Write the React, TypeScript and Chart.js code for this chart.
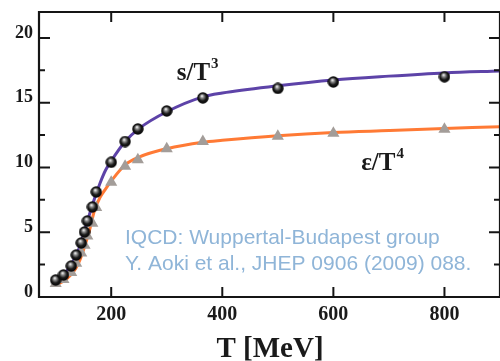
import { useEffect, useRef } from 'react';
import { Chart, registerables } from 'chart.js';
Chart.register(...registerables);

// Lattice data points
const POINT_T = [100, 114, 128, 137, 146, 152, 157, 166, 173, 200, 225, 248, 300, 365, 500, 600, 800];
const ENTROPY = [1.31, 1.7, 2.39, 3.24, 4.17, 5.02, 5.87, 6.95, 8.11, 10.4, 12.0, 12.97, 14.36, 15.37, 16.1, 16.6, 17.0];
const ENERGY = [1.05, 1.35, 1.9, 2.6, 3.4, 4.0, 4.7, 5.7, 6.9, 8.85, 10.1, 10.6, 11.45, 12.0, 12.4, 12.65, 12.95];

// Fitted curves
const CURVE_T = [100, 120, 140, 160, 170, 180, 190, 200, 225, 250, 300, 365, 400, 500, 600, 700, 800, 900];
const ENTROPY_FIT = [1.2, 2.0, 3.5, 6.25, 7.6, 8.8, 9.8, 10.5, 12.0, 13.0, 14.3, 15.45, 15.75, 16.3, 16.75, 17.05, 17.3, 17.45];
const ENERGY_FIT = [0.9, 1.4, 2.5, 5.0, 6.7, 7.7, 8.35, 8.95, 10.2, 10.8, 11.45, 11.95, 12.1, 12.45, 12.7, 12.85, 13.0, 13.15];

const X_TICKS = [200, 400, 600, 800];
const Y_TICKS = [0, 5, 10, 15, 20];
const Y_MINOR = [2.5, 7.5, 12.5, 17.5];
const X_MIN = 70;
const X_MAX = 900;
const Y_MIN = 0;
const Y_MAX = 22;

const X_TITLE = 'T [MeV]';
const LABEL_S = { text: 's/T', sup: '3', t: 318, v: 16.75 };
const LABEL_E = { text: 'ε/T', sup: '4', t: 650, v: 9.8 };
const NOTE_LINES = ['IQCD: Wuppertal-Budapest group', 'Y. Aoki et al., JHEP 0906 (2009) 088.'];

function makeSphere(): HTMLCanvasElement {
  const c = document.createElement('canvas');
  c.width = 12;
  c.height = 12;
  const g = c.getContext('2d')!;
  const grad = g.createRadialGradient(5, 4, 0.3, 6, 6, 6);
  grad.addColorStop(0, '#f4f4f4');
  grad.addColorStop(0.25, '#8a8a8a');
  grad.addColorStop(0.6, '#1a1a1a');
  grad.addColorStop(1, '#000000');
  g.fillStyle = grad;
  g.beginPath();
  g.arc(6, 6, 5.7, 0, Math.PI * 2);
  g.fill();
  return c;
}

const decoPlugin = {
  id: 'deco',
  afterDraw(chart: any) {
    const ctx: CanvasRenderingContext2D = chart.ctx;
    const { left, right, top, bottom } = chart.chartArea;
    const xs = chart.scales.x;
    const ys = chart.scales.y;
    ctx.save();
    ctx.strokeStyle = '#151515';
    ctx.lineWidth = 2.2;
    ctx.beginPath();
    ctx.moveTo(left, top);
    ctx.lineTo(right, top);
    ctx.moveTo(left, top - 1);
    ctx.lineTo(left, bottom);
    ctx.lineTo(right, bottom);
    ctx.moveTo(right, top);
    ctx.lineTo(right, bottom);
    ctx.stroke();

    ctx.lineWidth = 2;
    ctx.beginPath();
    for (const v of Y_TICKS) {
      const y = ys.getPixelForValue(v);
      ctx.moveTo(left, y);
      ctx.lineTo(left + 11, y);
      ctx.moveTo(right, y);
      ctx.lineTo(right - 11, y);
    }
    for (const v of Y_MINOR) {
      const y = ys.getPixelForValue(v);
      ctx.moveTo(left, y);
      ctx.lineTo(left + 6, y);
      ctx.moveTo(right, y);
      ctx.lineTo(right - 6, y);
    }
    for (const v of X_TICKS) {
      const x = xs.getPixelForValue(v);
      ctx.moveTo(x, top);
      ctx.lineTo(x, top + 10);
      ctx.moveTo(x, bottom);
      ctx.lineTo(x, bottom - 10);
    }
    ctx.stroke();

    ctx.fillStyle = '#1a1a1a';
    ctx.font = 'bold 18px "Liberation Serif"';
    ctx.textAlign = 'right';
    ctx.textBaseline = 'middle';
    for (const v of Y_TICKS) {
      ctx.fillText(String(v), left - 6, ys.getPixelForValue(v) - 5);
    }
    ctx.font = 'bold 20px "Liberation Serif"';
    ctx.textAlign = 'center';
    ctx.textBaseline = 'middle';
    for (const v of X_TICKS) {
      ctx.fillText(String(v), xs.getPixelForValue(v), bottom + 18);
    }
    ctx.font = 'bold 29px "Liberation Serif"';
    ctx.textBaseline = 'alphabetic';
    ctx.fillText(X_TITLE, 270, 357);

    const drawLabel = (lab: { text: string; sup: string; t: number; v: number }) => {
      const x = xs.getPixelForValue(lab.t);
      const y = ys.getPixelForValue(lab.v);
      ctx.textAlign = 'left';
      ctx.textBaseline = 'alphabetic';
      ctx.font = 'bold 25px "Liberation Serif"';
      ctx.fillText(lab.text, x, y);
      const w = ctx.measureText(lab.text).width;
      ctx.font = 'bold 15px "Liberation Serif"';
      ctx.fillText(lab.sup, x + w + 1, y - 12);
    };
    drawLabel(LABEL_S);
    drawLabel(LABEL_E);

    ctx.fillStyle = '#8fb5d8';
    ctx.font = '21px "Liberation Sans"';
    ctx.textAlign = 'left';
    ctx.textBaseline = 'middle';
    ctx.fillText(NOTE_LINES[0], 125, 238);
    ctx.fillText(NOTE_LINES[1], 125, 264);
    ctx.restore();
  },
};

export default function App() {
  const ref = useRef<HTMLCanvasElement>(null);
  useEffect(() => {
    document.body.style.margin = '0';
    const sphere = makeSphere();
    const chart = new Chart(ref.current!, {
      type: 'line',
      data: {
        datasets: [
          {
            label: 's/T3 lattice',
            data: POINT_T.map((t, i) => ({ x: t, y: ENTROPY[i] })),
            showLine: false,
            pointStyle: sphere as any,
            pointRadius: 6,
            order: 0,
          },
          {
            label: 'e/T4 lattice',
            data: POINT_T.map((t, i) => ({ x: t, y: ENERGY[i] })),
            showLine: false,
            pointStyle: 'triangle',
            pointRadius: 7,
            backgroundColor: '#a39d99',
            borderColor: '#a39d99',
            borderWidth: 0,
            order: 1,
          },
          {
            label: 's/T3 fit',
            data: CURVE_T.map((t, i) => ({ x: t, y: ENTROPY_FIT[i] })),
            borderColor: '#5d43a8',
            borderWidth: 3,
            pointRadius: 0,
            cubicInterpolationMode: 'monotone',
            order: 2,
          },
          {
            label: 'e/T4 fit',
            data: CURVE_T.map((t, i) => ({ x: t, y: ENERGY_FIT[i] })),
            borderColor: '#ff7a35',
            borderWidth: 3,
            pointRadius: 0,
            cubicInterpolationMode: 'monotone',
            order: 3,
          },
        ],
      },
      options: {
        animation: false,
        responsive: false,
        layout: { autoPadding: false, padding: { left: 39, top: 12, right: -3, bottom: 64 } },
        plugins: { legend: { display: false }, tooltip: { enabled: false } },
        scales: {
          x: { type: 'linear', min: X_MIN, max: X_MAX, display: false },
          y: { type: 'linear', min: Y_MIN, max: Y_MAX, display: false },
        },
      },
      plugins: [decoPlugin],
    });
    return () => chart.destroy();
  }, []);
  return (
    <div style={{ width: 500, height: 361 }}>
      <canvas ref={ref} width={500} height={361} />
    </div>
  );
}
